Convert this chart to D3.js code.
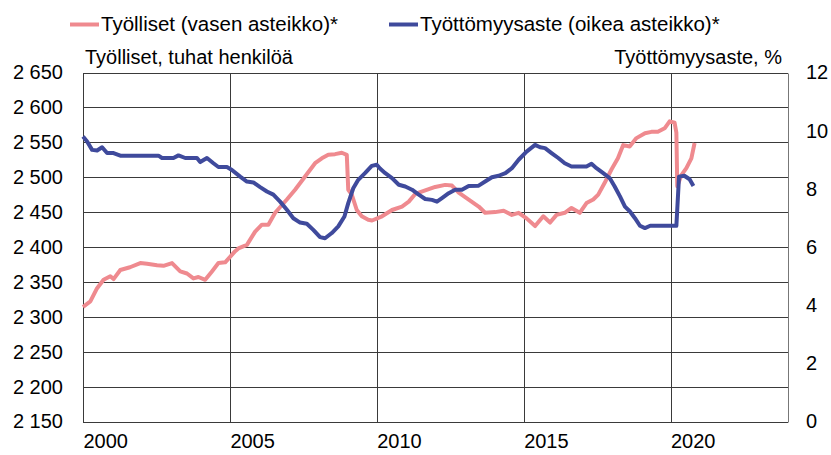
<!DOCTYPE html>
<html>
<head>
<meta charset="utf-8">
<script src="https://cdn.jsdelivr.net/npm/d3@7"></script>
<style>
  body { margin: 0; background: #fff; }
  text { font-family: "Liberation Sans", Arial, sans-serif; fill: #000; }
</style>
</head>
<body>
<script>
// Työlliset, tuhat henkilöä (left scale)
var empYears = [2000.0, 2000.25, 2000.48, 2000.7, 2000.93, 2001.04, 2001.27, 2001.6, 2001.95, 2002.18,
  2002.52, 2002.74, 2003.03, 2003.31, 2003.54, 2003.76, 2003.93, 2004.16, 2004.39, 2004.61,
  2004.84, 2005.18, 2005.29, 2005.58, 2005.86, 2006.09, 2006.31, 2006.54, 2006.94, 2007.22,
  2007.56, 2007.9, 2008.13, 2008.35, 2008.58, 2008.81, 2008.98, 2009.03, 2009.15, 2009.32,
  2009.49, 2009.71, 2009.84, 2010.18, 2010.52, 2010.86, 2011.09, 2011.31, 2011.65, 2011.99,
  2012.33, 2012.56, 2012.79, 2013.13, 2013.47, 2013.69, 2014.03, 2014.32, 2014.6, 2014.83,
  2015.1, 2015.39, 2015.67, 2015.9, 2016.12, 2016.4, 2016.63, 2016.91, 2017.14, 2017.37,
  2017.54, 2017.76, 2017.99, 2018.21, 2018.39, 2018.61, 2018.84, 2019.13, 2019.35, 2019.57,
  2019.8, 2019.97, 2020.14, 2020.2, 2020.23, 2020.37, 2020.54, 2020.71, 2020.82];
var empValues = [2314, 2322, 2341, 2353, 2358, 2354, 2367, 2371, 2377, 2376,
  2374, 2373, 2377, 2365, 2362, 2355, 2357, 2353, 2365, 2377,
  2378, 2394, 2398, 2403, 2422, 2432, 2432, 2449, 2468, 2482,
  2501, 2520, 2527, 2532, 2533, 2535, 2532, 2482, 2475, 2453,
  2444, 2439, 2438, 2444, 2453, 2458, 2465, 2476, 2481, 2486,
  2489, 2488, 2478, 2468, 2458, 2449, 2450, 2452, 2446, 2449,
  2441, 2430, 2444, 2435, 2446, 2449, 2456, 2449, 2463, 2468,
  2475, 2492, 2511, 2527, 2546, 2544, 2556, 2563, 2565, 2565,
  2570, 2580, 2578, 2564, 2487, 2503, 2513, 2527, 2549];

// Työttömyysaste, % (right scale)
var unempYears = [2000.0, 2000.14, 2000.31, 2000.48, 2000.65, 2000.82, 2001.04, 2001.27, 2001.61, 2002.18,
  2002.57, 2002.69, 2003.08, 2003.25, 2003.48, 2003.88, 2003.99, 2004.22, 2004.44, 2004.61,
  2004.9, 2005.07, 2005.35, 2005.58, 2005.8, 2006.03, 2006.26, 2006.48, 2006.71, 2006.94,
  2007.16, 2007.39, 2007.62, 2007.84, 2008.07, 2008.24, 2008.47, 2008.69, 2008.9, 2009.03,
  2009.2, 2009.37, 2009.6, 2009.83, 2010.0, 2010.11, 2010.29, 2010.52, 2010.75, 2010.97,
  2011.2, 2011.43, 2011.65, 2011.88, 2012.05, 2012.22, 2012.45, 2012.67, 2012.9, 2013.13,
  2013.47, 2013.69, 2013.92, 2014.15, 2014.38, 2014.6, 2014.83, 2015.1, 2015.39, 2015.56,
  2015.73, 2015.95, 2016.18, 2016.4, 2016.63, 2016.91, 2017.14, 2017.31, 2017.48, 2017.71,
  2017.93, 2018.1, 2018.28, 2018.45, 2018.62, 2018.79, 2018.96, 2019.13, 2019.31, 2019.7,
  2020.2, 2020.29, 2020.47, 2020.65, 2020.78];
var unempValues = [9.8, 9.63, 9.34, 9.32, 9.43, 9.23, 9.23, 9.14, 9.14, 9.14,
  9.14, 9.06, 9.06, 9.15, 9.06, 9.06, 8.92, 9.06, 8.88, 8.75,
  8.75, 8.65, 8.42, 8.25, 8.22, 8.06, 7.91, 7.8, 7.56, 7.28,
  6.99, 6.84, 6.8, 6.59, 6.34, 6.3, 6.48, 6.71, 7.05, 7.51,
  8.02, 8.31, 8.54, 8.79, 8.83, 8.7, 8.54, 8.37, 8.14, 8.08,
  7.97, 7.8, 7.65, 7.62, 7.56, 7.68, 7.85, 7.97, 7.97, 8.1,
  8.11, 8.25, 8.4, 8.45, 8.54, 8.71, 9.0, 9.28, 9.51, 9.43,
  9.4, 9.23, 9.06, 8.88, 8.77, 8.77, 8.77, 8.86, 8.71, 8.54,
  8.37, 8.08, 7.74, 7.39, 7.22, 6.99, 6.73, 6.65, 6.73, 6.73,
  6.73, 8.42, 8.45, 8.33, 8.1];

var leftTicks = [2150, 2200, 2250, 2300, 2350, 2400, 2450, 2500, 2550, 2600, 2650];
var rightTicks = [0, 2, 4, 6, 8, 10, 12];
var yearTicks = [2000, 2005, 2010, 2015, 2020];

var width = 831, height = 455;
var plotLeft = 83, plotRight = 788, plotTop = 72.5, plotBottom = 421.5;
var fontSize = '20px';

var svg = d3.select('body').append('svg')
  .attr('width', width)
  .attr('height', height);

var x = d3.scaleLinear().domain([2000, 2024]).range([plotLeft, plotRight]);
var yL = d3.scaleLinear().domain([2150, 2650]).range([plotBottom, plotTop]);
var yR = d3.scaleLinear().domain([0, 12]).range([plotBottom, plotTop]);

var fmt = function(d){ return d3.format(',')(d).replace(',', ' '); };
var snap = function(v){ return Math.round(v) + 0.5; };

// horizontal grid
svg.append('g')
  .selectAll('line').data(leftTicks).enter().append('line')
  .attr('x1', plotLeft).attr('x2', plotRight)
  .attr('y1', function(d){ return snap(yL(d)); })
  .attr('y2', function(d){ return snap(yL(d)); })
  .attr('stroke', '#3a3a3a').attr('stroke-width', 1);

// vertical grid + frame
svg.append('g')
  .selectAll('line').data([2000].concat(yearTicks.slice(1)).concat([2024])).enter().append('line')
  .attr('x1', function(d){ return snap(x(d)); })
  .attr('x2', function(d){ return snap(x(d)); })
  .attr('y1', snap(plotTop)).attr('y2', snap(plotBottom))
  .attr('stroke', function(d){ return d === 2024 ? '#777' : '#3a3a3a'; })
  .attr('stroke-width', 1);

// left axis labels
var axL = svg.append('g')
  .attr('transform', 'translate(' + (plotLeft - 20) + ',0)')
  .call(d3.axisLeft(yL).tickValues(leftTicks).tickFormat(fmt).tickSize(0).tickPadding(0));
axL.select('.domain').remove();
axL.selectAll('text').style('font-size', fontSize).style('font-family', '"Liberation Sans", Arial, sans-serif');

// right axis labels
var axR = svg.append('g')
  .attr('transform', 'translate(' + (plotRight + 18) + ',0)')
  .call(d3.axisRight(yR).tickValues(rightTicks).tickSize(0).tickPadding(0));
axR.select('.domain').remove();
axR.selectAll('text').style('font-size', fontSize).style('font-family', '"Liberation Sans", Arial, sans-serif');

// x axis labels
var axX = svg.append('g')
  .attr('transform', 'translate(0,' + (plotBottom + 12) + ')')
  .call(d3.axisBottom(x).tickValues(yearTicks).tickFormat(d3.format('d')).tickSize(0).tickPadding(0));
axX.select('.domain').remove();
axX.selectAll('text')
  .attr('text-anchor', 'start')
  .style('font-size', fontSize).style('font-family', '"Liberation Sans", Arial, sans-serif');

// axis titles
svg.append('text').attr('x', 85).attr('y', 64).style('font-size', fontSize)
  .text('Työlliset, tuhat henkilöä');
svg.append('text').attr('x', 782).attr('y', 64).attr('text-anchor', 'end').style('font-size', fontSize)
  .text('Työttömyysaste, %');

// lines
var empLine = d3.line().x(function(d){ return x(d[0]); }).y(function(d){ return yL(d[1]); });
var unempLine = d3.line().x(function(d){ return x(d[0]); }).y(function(d){ return yR(d[1]); });

svg.append('path')
  .datum(d3.zip(empYears, empValues))
  .attr('d', empLine)
  .attr('fill', 'none')
  .attr('stroke', '#ef8a8f')
  .attr('stroke-width', 4)
  .attr('stroke-linejoin', 'round');

svg.append('path')
  .datum(d3.zip(unempYears, unempValues))
  .attr('d', unempLine)
  .attr('fill', 'none')
  .attr('stroke', '#3f4a9c')
  .attr('stroke-width', 4)
  .attr('stroke-linejoin', 'round');

// legend
var legend = [
  {label: 'Työlliset (vasen asteikko)*', color: '#ef8a8f', x: 70},
  {label: 'Työttömyysaste (oikea asteikko)*', color: '#3f4a9c', x: 389}
];
var lg = svg.append('g').selectAll('g').data(legend).enter().append('g')
  .attr('transform', function(d){ return 'translate(' + d.x + ',0)'; });
lg.append('line')
  .attr('x1', 0).attr('x2', 29).attr('y1', 24.5).attr('y2', 24.5)
  .attr('stroke', function(d){ return d.color; })
  .attr('stroke-width', 4);
lg.append('text')
  .attr('x', 31).attr('y', 31)
  .style('font-size', '20.5px')
  .text(function(d){ return d.label; });
</script>
</body>
</html>
